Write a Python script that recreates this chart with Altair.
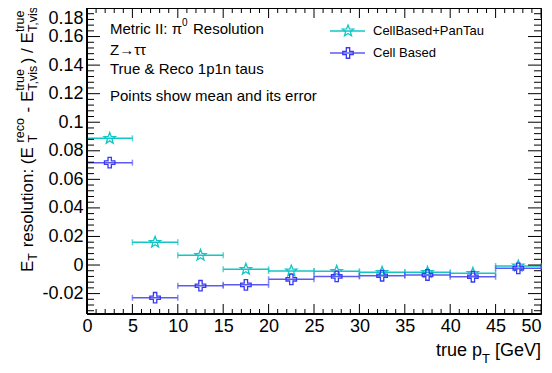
import math
import altair as alt
import pandas as pd

# ---------------- data ----------------
pt_centers = [2.5, 7.5, 12.5, 17.5, 22.5, 27.5, 32.5, 37.5, 42.5, 47.5]
bin_half = [2.5, 2.5, 2.5, 2.5, 2.5, 2.5, 2.5, 2.5, 2.5, 2.5]
pantau = [0.0887, 0.0159, 0.0068, -0.0030, -0.0042, -0.0044, -0.0051, -0.0051, -0.0058, -0.0007]
cellbased = [0.0717, -0.0229, -0.0145, -0.0139, -0.0100, -0.0080, -0.0075, -0.0070, -0.0082, -0.0023]
series_names = ["CellBased+PanTau", "Cell Based"]
x_ticks = [0, 5, 10, 15, 20, 25, 30, 35, 40, 45, 50]
y_ticks = [-0.02, 0.0, 0.02, 0.04, 0.06, 0.08, 0.1, 0.12, 0.14, 0.16, 0.18]
annotations = ["Z\u2192\u03c4\u03c4", "True & Reco 1p1n taus", "Points show mean and its error"]

X_DOM = [0, 50]
Y_DOM = [-0.0343, 0.18]
W, H = 454, 306
FONT = "Liberation Sans"
CYAN = "#12C6C6"
BLUE_LINE = "#5B5BF2"
BLUE_MARK = "#3838F5"

# marker shapes
star_pts = []
for k in range(10):
    r = 1.0 if k % 2 == 0 else 0.42
    a = -math.pi / 2 + k * math.pi / 5
    star_pts.append(f"{r*math.cos(a):.3f},{r*math.sin(a):.3f}")
STAR = "M" + "L".join(star_pts) + "Z"
c = 0.32
CROSS = (f"M{-c},-1L{c},-1L{c},{-c}L1,{-c}L1,{c}L{c},{c}L{c},1L{-c},1L{-c},{c}"
         f"L-1,{c}L-1,{-c}L{-c},{-c}Z")

xs = alt.Scale(domain=X_DOM, nice=False, zero=False)
ys = alt.Scale(domain=Y_DOM, nice=False, zero=False)
X_AXIS = alt.Axis(values=x_ticks, format="d", ticks=False, grid=False, domain=False,
                  labelFont=FONT, labelFontSize=18, labelColor="black", labelPadding=3,
                  labelFlush=False,
                  labelAlign={"condition": {"test": "datum.value == 50", "value": "right"},
                              "value": "center"},
                  title=None)
Y_AXIS = alt.Axis(values=y_ticks, ticks=False, grid=False, domain=False,
                  labelExpr="replace(format(datum.value, '.2~f'), '\u2212', '-')",
                  labelFont=FONT, labelFontSize=18, labelColor="black", labelPadding=4,
                  labelFlush=True, labelFlushOffset=-1, title=None)

def X(f):
    return alt.X(f, scale=xs, axis=X_AXIS, title=None)

def Y(f):
    return alt.Y(f, scale=ys, axis=Y_AXIS, title=None)

rows = []
for name, vals in zip(series_names, [pantau, cellbased]):
    for xc, hw, v in zip(pt_centers, bin_half, vals):
        rows.append({"series": name, "x": xc, "lo": xc - hw, "hi": xc + hw, "y": v})
df = pd.DataFrame(rows)

layers = []
styles = {
    series_names[0]: dict(line=CYAN, mark=CYAN, shape=STAR, size=140),
    series_names[1]: dict(line=BLUE_LINE, mark=BLUE_MARK, shape=CROSS, size=110),
}

for name in series_names:
    st = styles[name]
    d = df[df.series == name]
    base = alt.Chart(d)
    layers.append(base.mark_rule(color=st["line"], strokeWidth=1.5).encode(
        x=X("lo:Q"), x2="hi:Q", y=Y("y:Q")))
    layers.append(base.mark_tick(orient="vertical", size=6, thickness=1.5, color=st["line"]).encode(
        x=X("lo:Q"), y=Y("y:Q")))
    layers.append(base.mark_tick(orient="vertical", size=6, thickness=1.5, color=st["line"]).encode(
        x=X("hi:Q"), y=Y("y:Q")))
    layers.append(base.mark_point(shape=st["shape"], size=st["size"], filled=False,
                                  color=st["mark"], strokeWidth=1.3, opacity=1).encode(
        x=X("x:Q"), y=Y("y:Q")))

# ---------------- inward ticks ----------------
x_minor = [v for v in range(0, 51) if v % 5 != 0]
y_minor = [round(-0.032 + 0.004 * i, 3) for i in range(54)]
y_minor = [v for v in y_minor if v <= 0.18 and abs(round(v / 0.02) * 0.02 - v) > 1e-6]

def xticks(vals, length):
    d = pd.DataFrame({"v": vals})
    out = []
    for y1, y2 in [(H, H - length), (0, length)]:
        out.append(alt.Chart(d).mark_rule(color="black", strokeWidth=1).encode(
            x=X("v:Q"), y=alt.value(y1), y2=alt.value(y2)))
    return out

def yticks(vals, length):
    d = pd.DataFrame({"v": vals})
    out = []
    for x1, x2 in [(0, length), (W, W - length)]:
        out.append(alt.Chart(d).mark_rule(color="black", strokeWidth=1).encode(
            y=Y("v:Q"), x=alt.value(x1), x2=alt.value(x2)))
    return out

layers += xticks(x_ticks, 10) + xticks(x_minor, 5)
layers += yticks(y_ticks, 13) + yticks(y_minor, 7)

# left & bottom axis lines
layers.append(alt.Chart(pd.DataFrame({"v": [0]})).mark_rule(color="black", strokeWidth=2).encode(
    x=alt.value(0), x2=alt.value(W), y=alt.value(H)))
layers.append(alt.Chart(pd.DataFrame({"v": [0]})).mark_rule(color="black", strokeWidth=2).encode(
    x=alt.value(0), y=alt.value(0), y2=alt.value(H)))

# ---------------- text helpers ----------------
def txt(s, x, y, size, angle=0, align="left", baseline="middle"):
    return alt.Chart(pd.DataFrame({"t": [s]})).mark_text(
        align=align, baseline=baseline, fontSize=size, font=FONT, angle=angle,
        color="black").encode(x=alt.value(x), y=alt.value(y), text="t:N")

WID = {"E": 667, "T": 611, " ": 278, "r": 333, "e": 556, "s": 500, "o": 556, "l": 222,
       "u": 556, "t": 278, "i": 222, "n": 556, ":": 278, "(": 333, ")": 333, "-": 333,
       "/": 278, "c": 500, "v": 500, ",": 278, "[": 278, "]": 278, "G": 778, "V": 667,
       "p": 556}

def tw(s, size):
    return sum(WID.get(ch, 556) for ch in s) * size / 1000.0

# annotations
layers.append(txt("Metric II: \u03c0", 23, 21, 15))
layers.append(txt("0", 95, 15, 10))
layers.append(txt("Resolution", 106, 21, 15))
for s, yy in zip(annotations, [42, 61, 88]):
    layers.append(txt(s, 23, yy, 15))

# legend
for name, yy in zip(series_names, [23, 45]):
    st = styles[name]
    d = pd.DataFrame({"t": [name]})
    layers.append(alt.Chart(d).mark_rule(color=st["line"], strokeWidth=1.5).encode(
        x=alt.value(243), x2=alt.value(278), y=alt.value(yy)))
    layers.append(alt.Chart(d).mark_point(shape=st["shape"], size=st["size"], filled=False,
                                          color=st["mark"], strokeWidth=1.3, opacity=1).encode(
        x=alt.value(261), y=alt.value(yy)))
    layers.append(txt(name, 286, yy, 13))

# y title (rotated, built from pieces)
MS, SS = 17, 12.5
XB, XSUP, XSUB = -54, -63, -50
cur = 264
def main_piece(s, gap_before=0):
    global cur
    cur -= gap_before
    layers.append(txt(s, XB, cur, MS, angle=270, align="left", baseline="alphabetic"))
    cur -= tw(s, MS)
def supsub(sup, sub):
    global cur
    if sup:
        layers.append(txt(sup, XSUP, cur, SS, angle=270, align="left", baseline="alphabetic"))
    if sub:
        layers.append(txt(sub, XSUB, cur, SS, angle=270, align="left", baseline="alphabetic"))
    cur -= max(tw(sup or "", SS), tw(sub or "", SS)) + 1

main_piece("E")
supsub(None, "T")
main_piece("resolution:  (E", gap_before=tw(" ", MS))
supsub("reco", "T")
main_piece("- E", gap_before=tw(" ", MS))
supsub("true", "T,vis")
main_piece(") / E")
supsub("true", "T,vis")

# x title
layers.append(txt("[GeV]", W, 348, 18, align="right", baseline="alphabetic"))
xr = W - tw("[GeV]", 18) - tw(" ", 18)
layers.append(txt("T", xr, 355, 13, align="right", baseline="alphabetic"))
layers.append(txt("true p", xr - tw("T", 13), 348, 18, align="right", baseline="alphabetic"))

chart = alt.layer(*layers).properties(
    width=W, height=H,
    autosize=alt.AutoSizeParams(type="none"),
    padding={"left": 79, "top": 0, "right": 3, "bottom": 51},
    background="white",
).configure_view(stroke="black", strokeWidth=1)

chart.save("out.html", embed_options={"renderer": "svg", "actions": False})
